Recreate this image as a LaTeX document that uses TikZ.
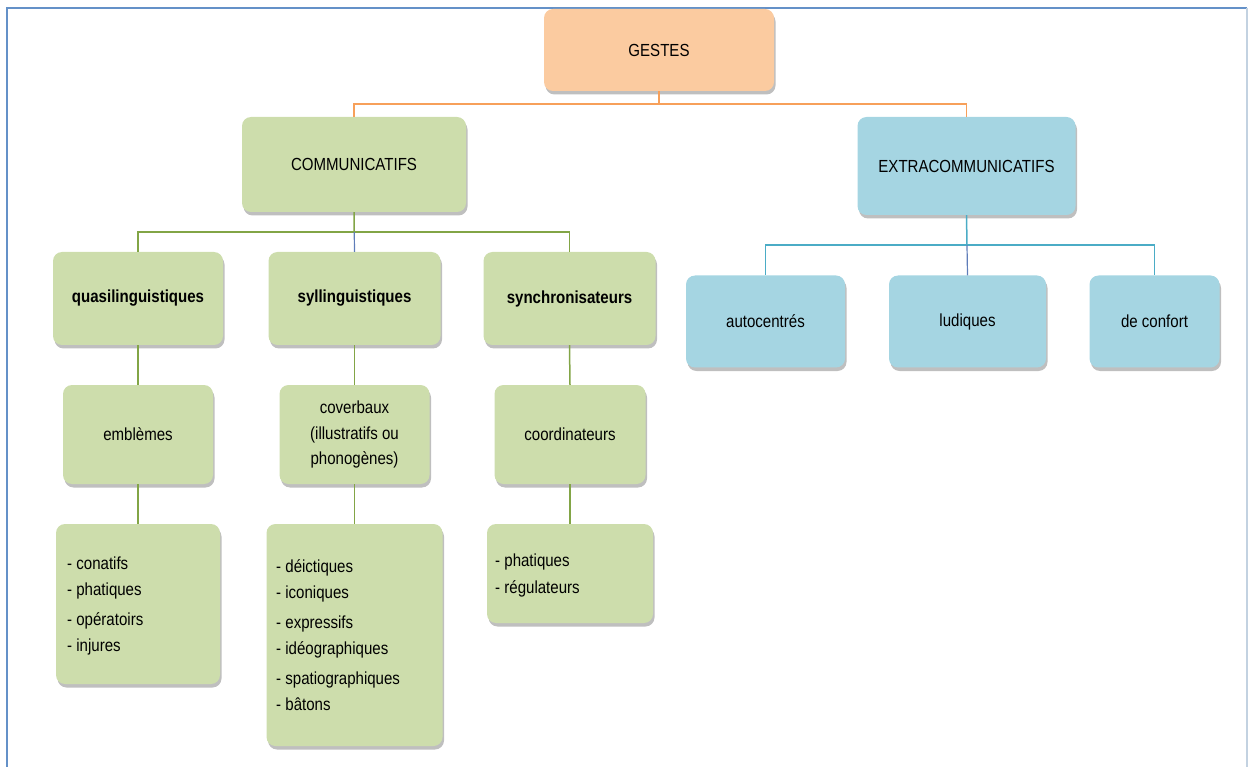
\documentclass[tikz,border=0pt]{standalone}
\usepackage{fontspec}
\setmainfont{Liberation Sans}[FakeStretch=0.86]
\usetikzlibrary{shadows,calc}
\definecolor{grfill}{RGB}{205,221,172}
\definecolor{orfill}{RGB}{251,203,160}
\definecolor{blfill}{RGB}{165,213,226}
\definecolor{orline}{RGB}{247,160,90}
\definecolor{grline}{RGB}{130,165,70}
\definecolor{blline}{RGB}{75,172,198}
\definecolor{midline}{RGB}{95,125,185}
\definecolor{frameblue}{RGB}{100,145,200}
\definecolor{framelight}{RGB}{195,210,225}
\tikzset{
  box/.style={rounded corners=9pt, inner sep=0pt, align=center,
    font=\fontsize{17.5}{25.5}\selectfont,
    drop shadow={shadow xshift=1.5pt, shadow yshift=-3.5pt, opacity=0.25, fill=black}},
  gbox/.style={box, fill=grfill},
  obox/.style={box, fill=orfill},
  bbox/.style={box, fill=blfill},
  boldtext/.style={font=\fontsize{17.5}{20}\selectfont\bfseries},
  item/.style={anchor=base west, inner sep=0pt, font=\fontsize{17.5}{20}\selectfont},
  oconn/.style={draw=orline, line width=1.5pt},
  gconn/.style={draw=grline, line width=1.5pt},
  bconn/.style={draw=blline, line width=1.5pt},
  mconn/.style={draw=midline, line width=1.2pt},
}
\begin{document}
\begin{tikzpicture}[x=1pt,y=-1pt]
\useasboundingbox (0,0) rectangle (1248,767);
% frame
\draw[frameblue, line width=2pt] (7,767) -- (7,8) -- (1247,8);
\draw[framelight, line width=1.5pt] (1247,8) -- (1247,767);

% top
\node[obox, minimum width=230pt, minimum height=82pt] (gestes) at (659,50) {GESTES};
\node[gbox, minimum width=224pt, minimum height=95pt] (comm) at (354,164.5) {COMMUNICATIFS};
\node[bbox, minimum width=218pt, minimum height=98pt] (extra) at (966.5,166) {EXTRACOMMUNICATIFS};

% level 2 left
\node[gbox, boldtext, minimum width=170pt, minimum height=93pt] (quasi) at (138,298.5) {quasilinguistiques};
\node[gbox, boldtext, minimum width=172pt, minimum height=93pt] (syl) at (354.5,298.5) {syllinguistiques};
\node[gbox, boldtext, minimum width=172pt, minimum height=93pt] (synch) at (569.5,298.5) {synchronisateurs};

% level 2 right
\node[bbox, minimum width=159pt, minimum height=92pt] (auto) at (765.5,321.5) {autocentrés};
\node[bbox, minimum width=157pt, minimum height=92pt] (ludi) at (967.5,321.5) {ludiques};
\node[bbox, minimum width=130pt, minimum height=92pt] (conf) at (1154.5,321.5) {de confort};

% level 3
\node[gbox, minimum width=150pt, minimum height=99pt] (embl) at (138,434.5) {emblèmes};
\node[gbox, minimum width=150pt, minimum height=99pt] (cover) at (354.5,434.5) {coverbaux\\(illustratifs ou\\phonogènes)};
\node[gbox, minimum width=151pt, minimum height=99pt] (coord) at (570,434.5) {coordinateurs};

% level 4
\node[gbox, minimum width=164pt, minimum height=160pt] (list1) at (138,604) {};
\node[gbox, minimum width=176pt, minimum height=222pt] (list2) at (354.5,635) {};
\node[gbox, minimum width=166pt, minimum height=99pt] (list3) at (570,573.5) {};

\node[item] (l1a) at (67,569) {- conatifs};
\node[item] (l1b) at (67,595) {- phatiques};
\node[item] (l1c) at (67,625) {- opératoirs};
\node[item] (l1d) at (67,651) {- injures};

\node[item] (l2a) at (276,572) {- déictiques};
\node[item] (l2b) at (276,598) {- iconiques};
\node[item] (l2c) at (276,628) {- expressifs};
\node[item] (l2d) at (276,654) {- idéographiques};
\node[item] (l2e) at (276,684) {- spatiographiques};
\node[item] (l2f) at (276,710) {- bâtons};

\node[item] (l3a) at (495,566) {- phatiques};
\node[item] (l3b) at (495,593) {- régulateurs};

% connectors
\coordinate (obus) at ($(gestes.south)!.5!(comm.north)$);
\draw[oconn] (gestes.south) |- (obus) -| (comm.north);
\draw[oconn] (gestes.south) |- (obus) -| (extra.north);

\coordinate (gbus) at ($(comm.south)!.5!(syl.north)$);
\draw[gconn] (comm.south) -- (gbus);
\draw[gconn] (gbus) -| (quasi.north);
\draw[gconn] (gbus) -| (synch.north);
\draw[mconn] (gbus) -- (syl.north);

\coordinate (bbus) at ($(extra.south)!.5!(ludi.north)$);
\draw[bconn] (extra.south) -- (bbus);
\draw[bconn] (bbus) -| (auto.north);
\draw[bconn] (bbus) -| (conf.north);
\draw[mconn] (bbus) -- (ludi.north);

\draw[gconn] (quasi.south) -- (embl.north);
\draw[gconn] (syl.south) -- (cover.north);
\draw[gconn] (synch.south) -- (coord.north);
\draw[gconn] (embl.south) -- (list1.north);
\draw[gconn] (cover.south) -- (list2.north);
\draw[gconn] (coord.south) -- (list3.north);
\end{tikzpicture}
\end{document}
